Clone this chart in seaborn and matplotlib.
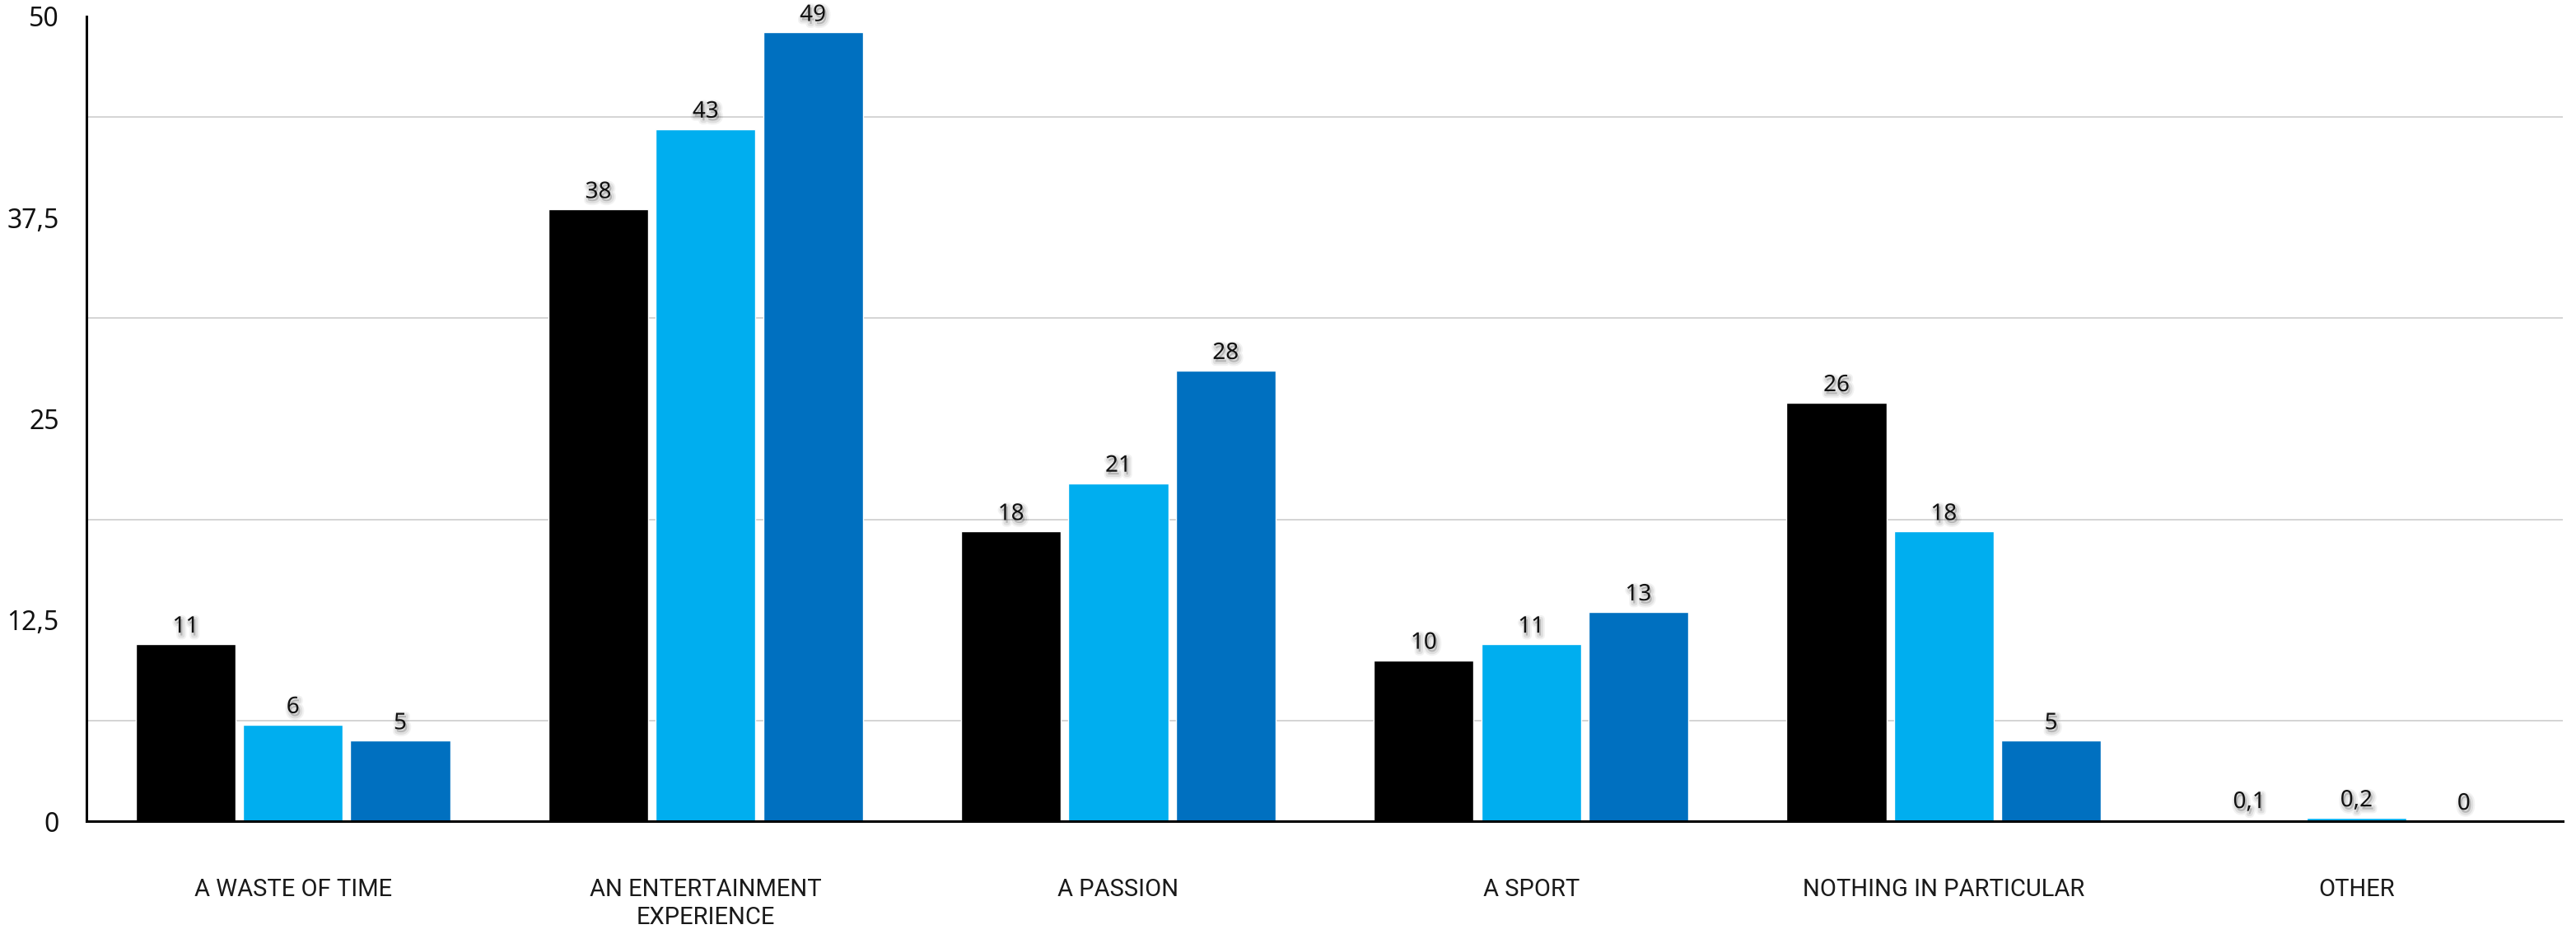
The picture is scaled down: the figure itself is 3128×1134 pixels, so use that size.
import matplotlib
matplotlib.use("Agg")
import matplotlib.pyplot as plt
import matplotlib.patheffects as pe
import numpy as np
import pandas as pd
import seaborn as sns

categories = ["A WASTE OF TIME", "AN ENTERTAINMENT\nEXPERIENCE", "A PASSION",
              "A SPORT", "NOTHING IN PARTICULAR", "OTHER"]
series_names = ["Series 1", "Series 2", "Series 3"]
series_1 = [11, 38, 18, 10, 26, 0.1]
series_2 = [6, 43, 21, 11, 18, 0.2]
series_3 = [5, 49, 28, 13, 5, 0]
colors = ["#000000", "#00AEEF", "#0070C0"]
y_ticks = [0, 12.5, 25, 37.5, 50]
y_tick_labels = ["0", "12,5", "25", "37,5", "50"]

rows = []
for name, vals in zip(series_names, [series_1, series_2, series_3]):
    for cat, v in zip(categories, vals):
        rows.append({"category": cat, "series": name, "value": v})
df = pd.DataFrame(rows)

sns.set_theme(style="white")
plt.rcParams["font.family"] = ["Noto Sans", "DejaVu Sans"]

fig = plt.figure(figsize=(31.28, 11.34), dpi=100)
ax = fig.add_axes([0.0336, 0.1208, 0.9613, 0.8616])

sns.barplot(data=df, x="category", y="value", hue="series", order=categories,
            hue_order=series_names, palette=colors, saturation=1, width=0.78,
            gap=0.07, errorbar=None, legend=False, ax=ax)

ax.set_xlim(-0.5, len(categories) - 0.5)
ax.set_ylim(0, 50)
ax.set_yticks(y_ticks)
ax.set_yticklabels(y_tick_labels, fontsize=23, color="#111111")
ax.set_yticks([6.25, 18.75, 31.25, 43.75], minor=True)
ax.grid(False)
ax.grid(True, which="minor", axis="y", color="#d4d4d4", linewidth=1.4)
ax.set_axisbelow(True)
ax.tick_params(axis="y", which="both", length=0, pad=24)
ax.tick_params(axis="x", length=0, pad=50)
ax.set_xticklabels(categories, fontsize=21, color="#1a1a1a",
                   family=["Roboto", "DejaVu Sans"], fontweight="normal",
                   linespacing=1.25)
ax.set_xlabel("")
ax.set_ylabel("")

for side in ["top", "right"]:
    ax.spines[side].set_visible(False)
for side in ["left", "bottom"]:
    ax.spines[side].set_color("black")
    ax.spines[side].set_linewidth(2.2)


def fmt(v):
    if float(v).is_integer():
        return str(int(v))
    return str(v).replace(".", ",")


# soft drop shadow behind the value labels
off = (1.5, -2.5)
shadow = [
    pe.SimpleLineShadow(offset=off, shadow_color="black", alpha=0.05, linewidth=7),
    pe.SimpleLineShadow(offset=off, shadow_color="black", alpha=0.08, linewidth=4),
    pe.SimplePatchShadow(offset=off, shadow_rgbFace="black", alpha=0.18),
    pe.Normal(),
]
for container, vals in zip(ax.containers, [series_1, series_2, series_3]):
    texts = ax.bar_label(container, labels=[fmt(v) for v in vals], padding=5,
                         fontsize=20, color="#111111")
    for t in texts:
        t.set_path_effects(shadow)

fig.savefig("out.png", dpi=100, facecolor="white")
